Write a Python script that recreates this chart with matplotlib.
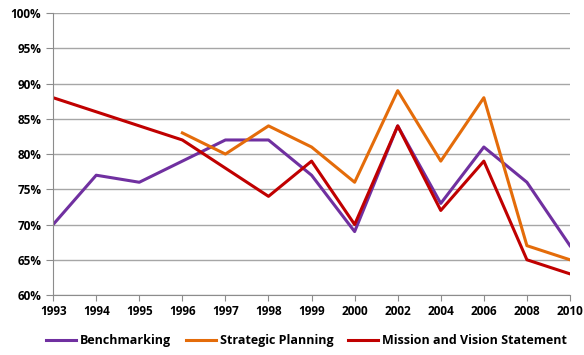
import numpy as np
import matplotlib.pyplot as plt

plt.rcParams['font.family'] = ['Open Sans', 'DejaVu Sans']
plt.rcParams['font.weight'] = 'bold'

years = ['1993', '1994', '1995', '1996', '1997', '1998', '1999',
         '2000', '2002', '2004', '2006', '2008', '2010']
benchmarking = [70, 77, 76, 79, 82, 82, 77, 69, 84, 73, 81, 76, 67]
strategic = [np.nan, np.nan, np.nan, 83, 80, 84, 81, 76, 89, 79, 88, 67, 65]
mission = [88, 86, 84, 82, 78, 74, 79, 70, 84, 72, 79, 65, 63]

fig = plt.figure(figsize=(5.84, 3.55), dpi=100)
ax = fig.add_axes([0.091, 0.169, 0.885, 0.794])

x = np.arange(len(years))
ax.plot(x, benchmarking, color='#7030A0', lw=2.2, label='Benchmarking')
ax.plot(x, strategic, color='#E46C0A', lw=2.2, label='Strategic Planning')
ax.plot(x, mission, color='#C00000', lw=2.2, label='Mission and Vision Statement')

ax.set_xlim(0, len(years) - 1)
ax.set_ylim(60, 100)
ax.set_xticks(x)
ax.set_xticklabels(years)
ax.set_yticks(np.arange(60, 101, 5))
ax.set_yticklabels([f'{v}%' for v in range(60, 101, 5)])
ax.yaxis.grid(True, color='#a6a6a6', lw=1)
ax.set_axisbelow(True)

for s in ['top', 'right']:
    ax.spines[s].set_visible(False)
for s in ['left', 'bottom']:
    ax.spines[s].set_color('#8c8c8c')
ax.tick_params(axis='y', length=5, color='#8c8c8c', labelsize=8.5)
ax.tick_params(axis='x', length=4, color='#8c8c8c', labelsize=8.5)

ax.legend(loc='upper center', bbox_to_anchor=(0.49, -0.1), ncol=3,
          frameon=False, fontsize=9, handlelength=2.4, columnspacing=1.2,
          handletextpad=0.3)

fig.savefig('out.png', dpi=100)
